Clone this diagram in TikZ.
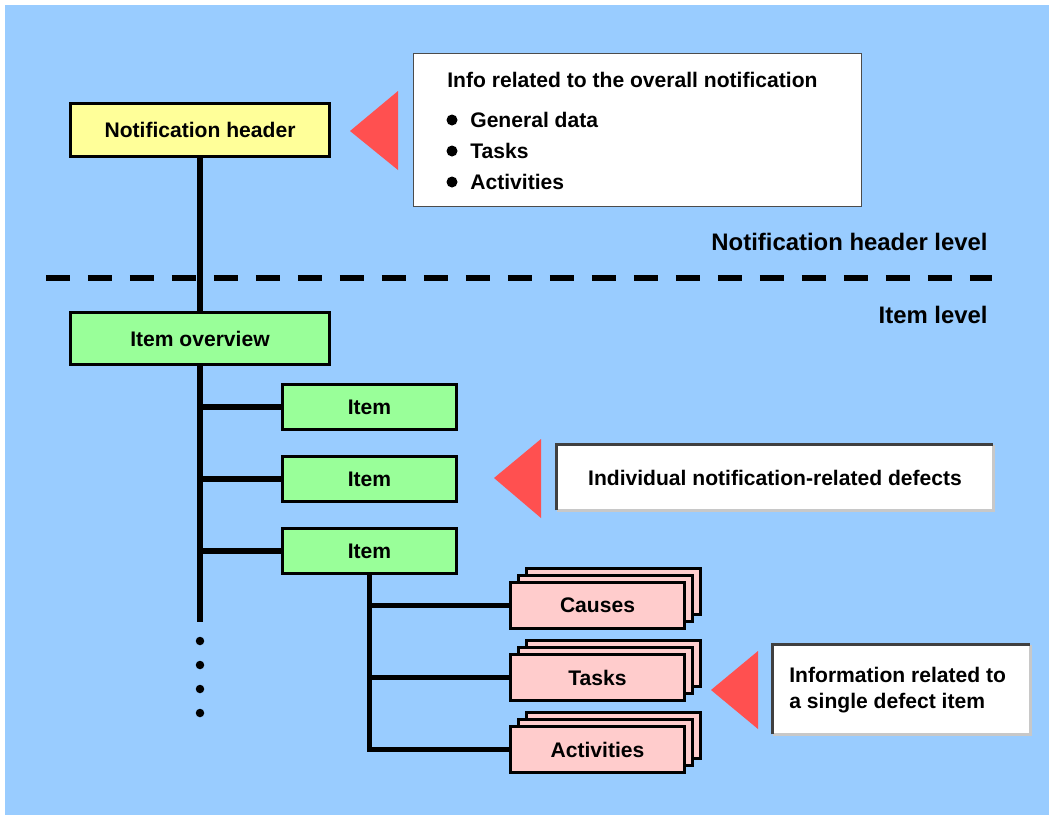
\documentclass[tikz,border=0pt]{standalone}
\usepackage{fontspec}
\setmainfont{Liberation Sans}
\usetikzlibrary{backgrounds}

\definecolor{bgblue}{HTML}{99CCFF}
\definecolor{hdryellow}{HTML}{FFFF99}
\definecolor{itmgreen}{HTML}{99FF99}
\definecolor{subpink}{HTML}{FFCCCC}
\definecolor{ptrred}{HTML}{FF5050}
\definecolor{edgedark}{HTML}{404040}
\definecolor{edgelight}{HTML}{C8C8C8}

\begin{document}
\begin{tikzpicture}[x=0.02cm, y=-0.02cm,
    font=\fontsize{12}{14.7}\selectfont\bfseries,
    hdrbox/.style={draw, line width=1.7pt, minimum width=5.18cm, minimum height=1.06cm},
    itmbox/.style={draw, line width=1.7pt, fill=itmgreen, minimum width=3.48cm, minimum height=0.9cm},
    subbox/.style={draw, line width=1.7pt, fill=subpink, minimum width=3.48cm, minimum height=0.92cm},
    notebox/.style={fill=white, inner sep=0pt},
    conn/.style={line width=3.4pt},
    pointer/.style={fill=ptrred},
    txt/.style={inner sep=0pt},
    lvl/.style={txt, anchor=east, font=\fontsize{13.6}{16}\selectfont\bfseries}]
        \useasboundingbox (0,0) rectangle (1049,815);
        \begin{scope}[on background layer]
            \fill[bgblue] (5,5) rectangle (1049,815);
        \end{scope}

        % header level
        \node[hdrbox, fill=hdryellow] (nh) at (200,130) {Notification header};
        \fill[pointer] (350,131) -- (398,91) -- (398,170) -- cycle;
        \node[notebox, draw=black!70, line width=0.6pt, minimum width=8.96cm, minimum height=3.06cm] (info) at (637.5,130) {};
        \node[txt, anchor=west] (infottl) at (447,80) {Info related to the overall notification};
        \foreach \y/\t [count=\i] in {120/General data, 151/Tasks, 182/Activities} {
            \fill (452,\y) circle[radius=0.11cm];
            \node[txt, anchor=west] (blt\i) at (470,\y) {\t};
        }
        \node[lvl] (hdrlvl) at (988,242) {Notification header level};

        \draw[line width=3.8pt, dash pattern=on 0.48cm off 0.36cm] (46,278) -- (992,278);

        % item level
        \node[lvl] (itmlvl) at (988,315) {Item level};
        \node[hdrbox, fill=itmgreen, minimum height=1.04cm] (ov) at (200,338.5) {Item overview};
        \node[itmbox] (it1) at (369.5,407) {Item};
        \node[itmbox] (it2) at (369.5,479) {Item};
        \node[itmbox] (it3) at (369.5,551) {Item};
        \coordinate (trunk) at (200,622);

        \foreach \n/\t/\y in {cau/Causes/605.5, tsk/Tasks/677.5, act/Activities/749.5} {
            \node[subbox] at (613.5,\y-14) {};
            \node[subbox] at (605.5,\y-7) {};
            \node[subbox] (\n) at (597.5,\y) {\t};
        }

        \begin{scope}[on background layer]
            \draw[conn] (nh) -- (ov);
            \draw[conn] (ov.south) -- (trunk);
            \draw[conn] (it1.west) -- (it1.west -| ov.south);
            \draw[conn] (it2.west) -- (it2.west -| ov.south);
            \draw[conn] (it3.west) -- (it3.west -| ov.south);
            \draw[conn] (it3.south) |- (act.west);
            \draw[conn] (cau.west) -- (cau.west -| it3.south);
            \draw[conn] (tsk.west) -- (tsk.west -| it3.south);
        \end{scope}
        \foreach \y in {641,665,689,713}
            \fill (200,\y) circle[radius=0.085cm];

        % notes
        \fill[pointer] (494,478) -- (541,439) -- (541,518) -- cycle;
        \node[notebox, minimum width=8.72cm, minimum height=1.3cm] (defects) at (775,477.5) {Individual notification-related defects};
        \draw[edgelight, line width=1.7pt] (defects.north east) |- (defects.south west);
        \draw[edgedark, line width=1.7pt] (defects.south west) |- (defects.north east);

        \fill[pointer] (711,690) -- (758,651) -- (758,729) -- cycle;
        \node[notebox, minimum width=5.14cm, minimum height=1.78cm] (single) at (901.5,689.5) {};
        \draw[edgelight, line width=1.7pt] (single.north east) |- (single.south west);
        \draw[edgedark, line width=1.7pt] (single.south west) |- (single.north east);
        \node[txt, anchor=west, align=left] (singletxt) at (789,690) {Information related to\\a single defect item};
    \end{tikzpicture}
\end{document}
